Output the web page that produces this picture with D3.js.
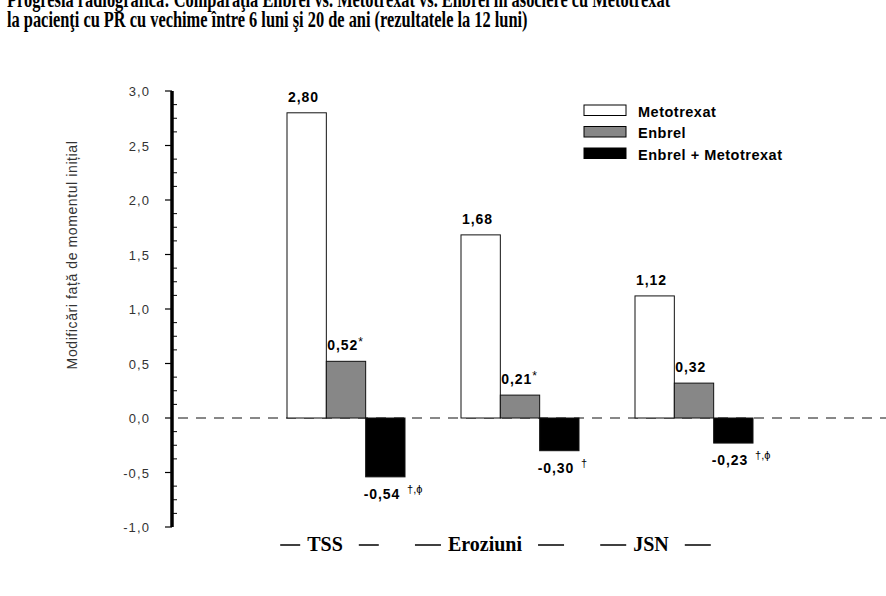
<!DOCTYPE html>
<html><head><meta charset="utf-8">
<script src="https://cdn.jsdelivr.net/npm/d3@7/dist/d3.min.js"></script>
<style>body{margin:0;background:#fff}svg{display:block}</style>
</head><body>
<svg id="c" width="886" height="596"></svg>
<script>
// ---- data ----
const titleLines = [
  "Progresia radiografică: Comparaţia Enbrel vs. Metotrexat vs. Enbrel în asociere cu Metotrexat",
  "la pacienţi cu PR cu vechime între 6 luni şi 20 de ani (rezultatele la 12 luni)"
];
const categories = ["TSS", "Eroziuni", "JSN"];
const seriesNames = ["Metotrexat", "Enbrel", "Enbrel + Metotrexat"];
const metotrexat = [2.80, 1.68, 1.12];
const enbrel = [0.52, 0.21, 0.32];
const enbrelMetotrexat = [-0.54, -0.30, -0.23];
const metotrexatMarks = ["", "", ""];
const enbrelMarks = ["*", "*", ""];
const comboMarks = ["†,ϕ", "†", "†,ϕ"];
const yTicks = [-1.0, -0.5, 0.0, 0.5, 1.0, 1.5, 2.0, 2.5, 3.0];
const yLabel = "Modificări față de momentul inițial";

// ---- layout ----
const svg = d3.select("#c");
const fills = ["#ffffff", "#878787", "#000000"];
const values = [metotrexat, enbrel, enbrelMetotrexat];
const marks = [metotrexatMarks, enbrelMarks, comboMarks];
const axisX = 172;
const fmt = v => d3.format(".2f")(v).replace(".", ",").replace("\u2212", "-");
const fmtTick = v => d3.format(".1f")(v).replace(".", ",").replace("\u2212", "-");

const y = d3.scaleLinear().domain([-1, 3]).range([527, 91]);
const x0 = d3.scaleBand().domain(categories).range([287, 753]).paddingInner(56/174).paddingOuter(0);
const x1 = d3.scaleBand().domain(seriesNames).range([0, x0.bandwidth()]).padding(0);

// title
const tg = svg.append("g");
const t2 = tg.append("text").attr("x", 0).attr("y", 27).text(titleLines[1]);
const t1 = tg.append("text").attr("x", 0).attr("y", 7).text(titleLines[0]);
tg.selectAll("text").attr("font-family", "Liberation Serif, Times New Roman, serif")
  .attr("font-weight", "bold").attr("font-size", 24).attr("fill", "#000");
const nat = t2.node().getComputedTextLength();
const sx = 521 / nat;
tg.attr("transform", `translate(7,0) scale(${sx},1)`);

// zero dashed line
svg.append("line").attr("x1", axisX + 6).attr("x2", 886).attr("y1", y(0)).attr("y2", y(0))
  .attr("stroke", "#111").attr("stroke-width", 1).attr("stroke-dasharray", "10,8");

// bars
const flat = [];
categories.forEach((c, i) => seriesNames.forEach((s, j) => flat.push({c, s, j, v: values[j][i], m: marks[j][i]})));
svg.append("g").selectAll("rect").data(flat).join("rect")
  .attr("x", d => x0(d.c) + x1(d.s))
  .attr("width", x1.bandwidth())
  .attr("y", d => y(Math.max(0, d.v)))
  .attr("height", d => Math.abs(y(d.v) - y(0)))
  .attr("fill", d => fills[d.j])
  .attr("stroke", "#111").attr("stroke-width", 1);

// value labels
const lab = svg.append("g").selectAll("text").data(flat).join("text")
  .attr("x", d => x0(d.c) + x1(d.s) + (d.v >= 0 ? 1 : -2))
  .attr("y", d => d.v >= 0 ? y(d.v) - 11 : y(d.v) + 22)
  .attr("font-family", "Liberation Sans, Arial, sans-serif")
  .attr("font-weight", "bold").attr("font-size", 14).attr("letter-spacing", 0.9)
  .attr("fill", "#000");
lab.append("tspan").text(d => fmt(d.v));
lab.filter(d => d.m).append("tspan")
  .attr("dx", d => d.v >= 0 ? 0 : 7).attr("dy", d => d.v >= 0 ? -4 : -6)
  .attr("font-size", d => d.v >= 0 ? 12 : 11).attr("font-weight", "normal").attr("letter-spacing", 0)
  .attr("fill", "#000")
  .text(d => d.m);

// y axis
const ag = svg.append("g");
ag.append("line").attr("x1", axisX).attr("x2", axisX).attr("y1", y(3)).attr("y2", y(-1))
  .attr("stroke", "#000").attr("stroke-width", 3.5);
ag.selectAll(".maj").data(yTicks).join("line")
  .attr("x1", axisX - 7).attr("x2", axisX).attr("y1", d => y(d)).attr("y2", d => y(d))
  .attr("stroke", "#000").attr("stroke-width", 1.2);
const minor = d3.range(-1, 3.0001, 0.125).filter(v => Math.abs(v*2 - Math.round(v*2)) > 1e-6);
ag.selectAll(".min").data(minor).join("line")
  .attr("x1", axisX).attr("x2", axisX + 5).attr("y1", d => y(d)).attr("y2", d => y(d))
  .attr("stroke", "#000").attr("stroke-width", 1);
ag.selectAll("text").data(yTicks).join("text")
  .attr("x", 150).attr("y", d => y(d) + 5).attr("text-anchor", "end")
  .attr("font-family", "Liberation Sans, Arial, sans-serif").attr("font-size", 13)
  .attr("letter-spacing", 1.1).attr("fill", "#333")
  .text(d => fmtTick(d));

// y label
svg.append("text").attr("transform", `translate(77,255) rotate(-90)`).attr("text-anchor", "middle")
  .attr("font-family", "Liberation Sans, Arial, sans-serif").attr("font-size", 14)
  .attr("letter-spacing", 0.6).attr("fill", "#333")
  .text(yLabel);

// legend
const lg = svg.append("g").attr("transform", "translate(584,105)");
seriesNames.forEach((s, j) => {
  lg.append("rect").attr("x", 0).attr("y", j * 21.5).attr("width", 42).attr("height", 10.5)
    .attr("fill", fills[j]).attr("stroke", "#000").attr("stroke-width", 1);
  lg.append("text").attr("x", 54).attr("y", j * 21.5 + 11.5).text(s)
    .attr("font-family", "Liberation Sans, Arial, sans-serif").attr("font-weight", "bold")
    .attr("font-size", 14.5).attr("letter-spacing", 0.5).attr("fill", "#000");
});

// category labels
const catOffset = [-21, -35, -43];
const cg = svg.append("g");
categories.forEach((c, i) => {
  const cx = x0(c) + x0.bandwidth() / 2 + catOffset[i];
  const t = cg.append("text").attr("x", cx).attr("y", 551).attr("text-anchor", "middle")
    .attr("font-family", "Liberation Serif, Times New Roman, serif").attr("font-weight", "bold")
    .attr("font-size", 20).text(c);
  const w = t.node().getComputedTextLength();
  const L = i === 0 ? 20 : 26;
  cg.append("line").attr("x1", cx - w/2 - 7 - L).attr("x2", cx - w/2 - 7).attr("y1", 545).attr("y2", 545)
    .attr("stroke", "#000").attr("stroke-width", 1.5);
  cg.append("line").attr("x1", cx + w/2 + 16).attr("x2", cx + w/2 + 16 + L).attr("y1", 545).attr("y2", 545)
    .attr("stroke", "#000").attr("stroke-width", 1.5);
});
</script>
</body></html>
